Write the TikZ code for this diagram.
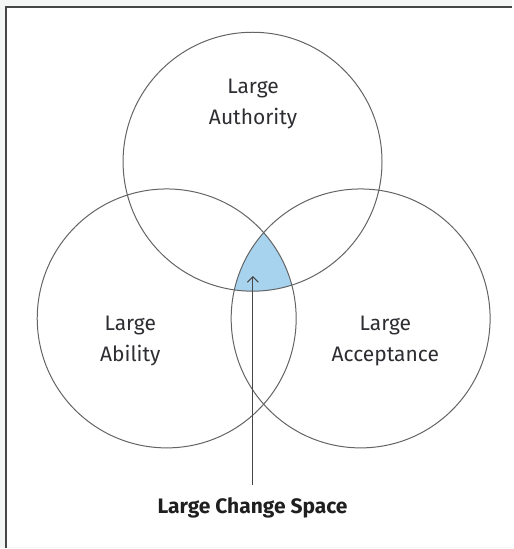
\documentclass[tikz,border=0pt]{standalone}
\usepackage{fontspec}
\setmainfont{Fira Sans}
\usetikzlibrary{arrows.meta}
\definecolor{pagegray}{RGB}{244,246,245}
\definecolor{framegray}{RGB}{70,70,70}
\definecolor{ringgray}{RGB}{100,100,100}
\definecolor{labelgray}{RGB}{45,45,50}
\definecolor{zoneblue}{RGB}{168,211,238}
\tikzset{
  ring/.style={draw=ringgray, line width=1pt},
  setlabel/.style={align=center, text=labelgray, font=\fontsize{21}{31}\selectfont},
  caption/.style={text=black!88, font=\bfseries\fontsize{21}{25}\selectfont},
  pointer/.style={draw=framegray, line width=1.1pt, -{Straight Barb[length=5.5pt,width=11pt,line width=1.1pt]}}
}
\begin{document}
\begin{tikzpicture}[x=1pt,y=-1pt]
  % page and frame
  \fill[pagegray] (0,0) rectangle (513,549);
  \fill[white] (7,8) rectangle (513,547.5);
  \draw[framegray, line width=2pt] (6,549) -- (6,7) -- (513,7);
  \useasboundingbox (0,0) rectangle (513,549);

  % shared zone of all three sets
  \begin{scope}
    \clip (167,319) circle[radius=129.7];
    \clip (361.3,319) circle[radius=129.7];
    \fill[zoneblue] (253,162) circle[radius=129.7];
  \end{scope}

  % the three sets
  \node[ring, circle, minimum size=259.4pt, inner sep=0pt] (authority) at (253,162) {};
  \node[ring, circle, minimum size=259.4pt, inner sep=0pt] (ability) at (167,319) {};
  \node[ring, circle, minimum size=259.4pt, inner sep=0pt] (acceptance) at (361.3,319) {};

  \node[setlabel] (lauth) at (253.5,104) {Large\\Authority};
  \node[setlabel] (labil) at (130.5,342) {Large\\Ability};
  \node[setlabel] (lacc) at (386,342) {Large\\Acceptance};

  % caption and pointer into the shared zone
  \node[caption] (change) at (253,509) {Large Change Space};
  \coordinate (tail) at (253.3,486);
  \coordinate (tip) at (253.3,276.5);
  \draw[pointer] (tail) -- (tip);
\end{tikzpicture}
\end{document}
